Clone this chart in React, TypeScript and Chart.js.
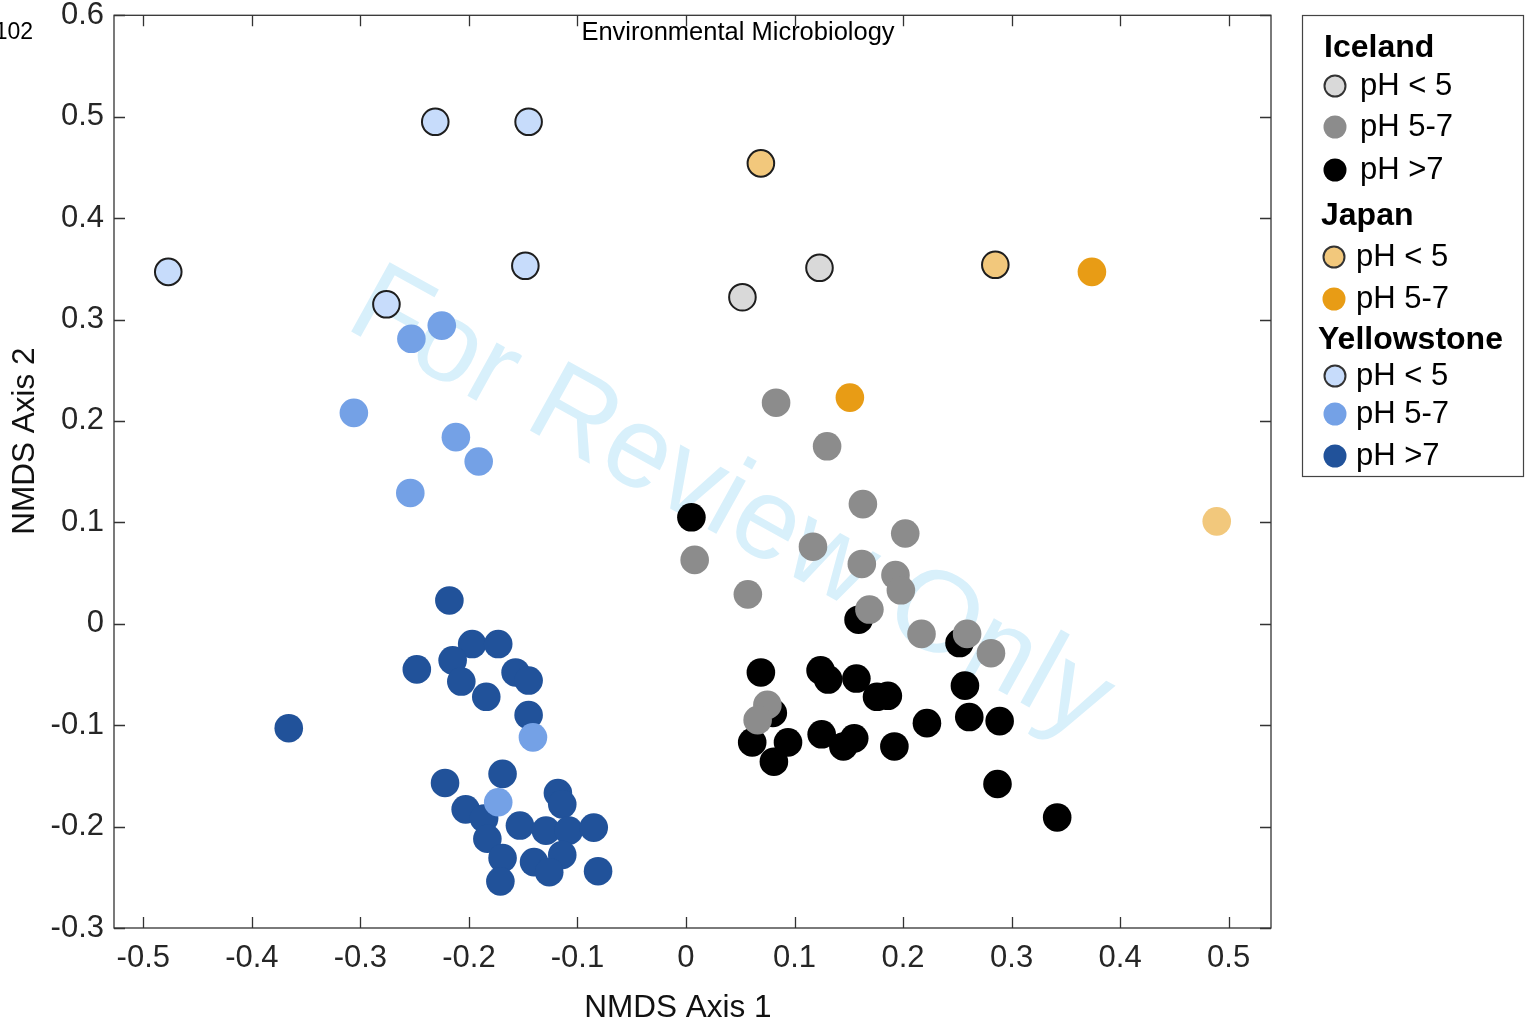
import React, { useEffect, useRef } from "react";
import { Chart, registerables } from "chart.js";

Chart.register(...registerables);

// ---------- data ----------
const X_TICKS = [-0.5, -0.4, -0.3, -0.2, -0.1, 0, 0.1, 0.2, 0.3, 0.4, 0.5];
const X_TICK_LABELS = ["-0.5", "-0.4", "-0.3", "-0.2", "-0.1", "0", "0.1", "0.2", "0.3", "0.4", "0.5"];
const Y_TICKS = [-0.3, -0.2, -0.1, 0, 0.1, 0.2, 0.3, 0.4, 0.5, 0.6];
const Y_TICK_LABELS = ["-0.3", "-0.2", "-0.1", "0", "0.1", "0.2", "0.3", "0.4", "0.5", "0.6"];

const X_TITLE = "NMDS Axis 1";
const Y_TITLE = "NMDS Axis 2";
const JOURNAL = "Environmental Microbiology";
const PAGE_NO = "102";
const WATERMARK = "For Review Only";

const GROUPS = ["Iceland", "Japan", "Yellowstone"];
const PH_LABELS = ["pH < 5", "pH 5-7", "pH >7"];

const ICELAND_LOW_X = [0.052, 0.123];
const ICELAND_LOW_Y = [0.322, 0.351];
const ICELAND_MID_X = [0.083, 0.130, 0.008, 0.057, 0.117, 0.163, 0.202, 0.162, 0.193, 0.198, 0.169, 0.217, 0.259, 0.281, 0.075, 0.066];
const ICELAND_MID_Y = [0.218, 0.175, 0.063, 0.029, 0.076, 0.118, 0.089, 0.059, 0.048, 0.033, 0.014, -0.010, -0.010, -0.029, -0.080, -0.095];
const ICELAND_HIGH_X = [0.005, 0.159, 0.252, 0.257, 0.069, 0.124, 0.131, 0.157, 0.176, 0.186, 0.261, 0.289, 0.222, 0.080, 0.061, 0.094, 0.081, 0.125, 0.145, 0.155, 0.192, 0.287, 0.342];
const ICELAND_HIGH_Y = [0.105, 0.004, -0.019, -0.061, -0.048, -0.046, -0.055, -0.054, -0.072, -0.071, -0.092, -0.096, -0.098, -0.088, -0.117, -0.117, -0.136, -0.109, -0.121, -0.113, -0.121, -0.158, -0.191];

const JAPAN_LOW_X = [0.069, 0.285];
const JAPAN_LOW_Y = [0.454, 0.354];
const JAPAN_LOW_EXTRA_X = [0.489];
const JAPAN_LOW_EXTRA_Y = [0.101];
const JAPAN_MID_X = [0.374, 0.151];
const JAPAN_MID_Y = [0.347, 0.223];

const YS_LOW_X = [-0.477, -0.231, -0.145, -0.148, -0.276];
const YS_LOW_Y = [0.347, 0.495, 0.495, 0.353, 0.315];
const YS_MID_X = [-0.225, -0.253, -0.306, -0.212, -0.191, -0.254, -0.141, -0.173];
const YS_MID_Y = [0.294, 0.281, 0.208, 0.184, 0.160, 0.129, -0.112, -0.176];
const YS_HIGH_X = [-0.366, -0.218, -0.197, -0.173, -0.215, -0.248, -0.207, -0.157, -0.145, -0.184, -0.145, -0.222, -0.169, -0.118, -0.114, -0.203, -0.186, -0.183, -0.153, -0.129, -0.108, -0.085, -0.169, -0.140, -0.114, -0.126, -0.171, -0.081];
const YS_HIGH_Y = [-0.103, 0.023, -0.020, -0.020, -0.036, -0.045, -0.057, -0.048, -0.056, -0.072, -0.090, -0.157, -0.148, -0.167, -0.178, -0.183, -0.192, -0.212, -0.199, -0.204, -0.204, -0.201, -0.231, -0.235, -0.228, -0.245, -0.254, -0.244];

// ---------- styles ----------
const FONT = '"Liberation Sans", Arial, Helvetica, sans-serif';
const C = {
  iceLow: "#d9d9d9",
  iceMid: "#8c8c8c",
  iceHigh: "#000000",
  jpLow: "#f2c87c",
  jpMid: "#e89c15",
  ysLow: "#c7dcfb",
  ysMid: "#74a1e6",
  ysHigh: "#21529a",
  outline: "#1e1e1e",
};

const pts = (xs: number[], ys: number[]) => xs.map((x, i) => ({ x, y: ys[i] }));

function ds(label: string, xs: number[], ys: number[], bg: string, outlined: boolean, order: number) {
  return {
    label,
    data: pts(xs, ys),
    backgroundColor: bg,
    borderColor: outlined ? C.outline : bg,
    borderWidth: outlined ? 2 : 0,
    pointRadius: outlined ? 13.3 : 14.3,
    pointHoverRadius: outlined ? 13.3 : 14.3,
    order,
  };
}

const overlayPlugin = {
  id: "overlay",
  beforeDatasetsDraw(chart: any) {
    const ctx = chart.ctx;
    ctx.save();
    ctx.translate(343, 327);
    ctx.rotate((29 * Math.PI) / 180);
    ctx.font = `115px ${FONT}`;
    ctx.fillStyle = "#d8f0fb";
    ctx.textBaseline = "alphabetic";
    ctx.textAlign = "left";
    ctx.fillText(WATERMARK, 0, 0);
    ctx.restore();
  },
  afterDraw(chart: any) {
    const { ctx, chartArea, scales } = chart;
    const { left, right, top, bottom } = chartArea;
    ctx.save();
    // frame
    ctx.strokeStyle = "#333333";
    ctx.lineWidth = 1.3;
    ctx.strokeRect(left, top, right - left, bottom - top);
    // inward ticks
    ctx.beginPath();
    const TL = 11;
    X_TICKS.forEach((v) => {
      const px = Math.round(scales.x.getPixelForValue(v)) + 0.5;
      ctx.moveTo(px, bottom);
      ctx.lineTo(px, bottom - TL);
      ctx.moveTo(px, top);
      ctx.lineTo(px, top + TL);
    });
    Y_TICKS.forEach((v) => {
      const py = Math.round(scales.y.getPixelForValue(v)) + 0.5;
      ctx.moveTo(left, py);
      ctx.lineTo(left + TL, py);
      ctx.moveTo(right, py);
      ctx.lineTo(right - TL, py);
    });
    ctx.stroke();

    // axis titles
    ctx.fillStyle = "#111111";
    ctx.font = `31.5px ${FONT}`;
    ctx.textAlign = "center";
    ctx.textBaseline = "middle";
    ctx.fillText(X_TITLE, 678, 1008);
    ctx.save();
    ctx.translate(25, 441);
    ctx.rotate(-Math.PI / 2);
    ctx.fillText(Y_TITLE, 0, 0);
    ctx.restore();

    // journal header + page number
    ctx.fillStyle = "#000000";
    ctx.font = `25.5px ${FONT}`;
    ctx.textAlign = "center";
    ctx.fillText(JOURNAL, 738, 33);
    ctx.textAlign = "right";
    ctx.font = `23px ${FONT}`;
    ctx.fillText(PAGE_NO, 33, 33);

    // legend
    ctx.fillStyle = "#ffffff";
    ctx.fillRect(1302, 15, 221, 461);
    ctx.strokeStyle = "#444444";
    ctx.lineWidth = 1.2;
    ctx.strokeRect(1302.5, 15.5, 221, 461);

    const dsets = chart.data.datasets;
    const byLabel = (g: string, p: string) => dsets.find((d: any) => d.group === g && d.ph === p);
    const layout = [
      { g: GROUPS[0], tx: 1324, ty: 48, items: [[PH_LABELS[0], 1335, 1360, 86], [PH_LABELS[1], 1335, 1360, 127], [PH_LABELS[2], 1335, 1360, 170]] },
      { g: GROUPS[1], tx: 1321, ty: 216, items: [[PH_LABELS[0], 1334, 1356, 257], [PH_LABELS[1], 1334, 1356, 299]] },
      { g: GROUPS[2], tx: 1318, ty: 340, items: [[PH_LABELS[0], 1335, 1356, 376], [PH_LABELS[1], 1335, 1356, 414], [PH_LABELS[2], 1335, 1356, 456]] },
    ];
    layout.forEach((grp) => {
      ctx.fillStyle = "#000000";
      ctx.font = `bold 32px ${FONT}`;
      ctx.textAlign = "left";
      ctx.textBaseline = "middle";
      ctx.fillText(grp.g, grp.tx, grp.ty);
      grp.items.forEach((it: any) => {
        const [lab, mx, lx, y] = it;
        const d = byLabel(grp.g, lab);
        if (!d) return;
        ctx.beginPath();
        const outlined = d.borderWidth > 0;
        ctx.arc(mx, y, outlined ? 10.5 : 11.5, 0, Math.PI * 2);
        ctx.fillStyle = d.backgroundColor;
        ctx.fill();
        if (outlined) {
          ctx.lineWidth = 2;
          ctx.strokeStyle = "#333333";
          ctx.stroke();
        }
        ctx.fillStyle = "#000000";
        ctx.font = `31px ${FONT}`;
        ctx.fillText(lab, lx, y);
      });
    });
    ctx.restore();
  },
};

export default function App() {
  const ref = useRef<HTMLCanvasElement | null>(null);
  useEffect(() => {
    document.body.style.margin = "0";
    if (!ref.current) return;
    const mark = (d: any, g: string, p: string) => Object.assign(d, { group: g, ph: p });
    const chart = new Chart(ref.current, {
      type: "scatter",
      data: {
        datasets: [
          mark(ds(`${GROUPS[0]} ${PH_LABELS[0]}`, ICELAND_LOW_X, ICELAND_LOW_Y, C.iceLow, true, 1), GROUPS[0], PH_LABELS[0]),
          mark(ds(`${GROUPS[0]} ${PH_LABELS[1]}`, ICELAND_MID_X, ICELAND_MID_Y, C.iceMid, false, 2), GROUPS[0], PH_LABELS[1]),
          mark(ds(`${GROUPS[0]} ${PH_LABELS[2]}`, ICELAND_HIGH_X, ICELAND_HIGH_Y, C.iceHigh, false, 3), GROUPS[0], PH_LABELS[2]),
          mark(ds(`${GROUPS[1]} ${PH_LABELS[0]}`, JAPAN_LOW_X, JAPAN_LOW_Y, C.jpLow, true, 1), GROUPS[1], PH_LABELS[0]),
          mark(ds(`${GROUPS[1]} ${PH_LABELS[0]} (2)`, JAPAN_LOW_EXTRA_X, JAPAN_LOW_EXTRA_Y, C.jpLow, false, 1), "", ""),
          mark(ds(`${GROUPS[1]} ${PH_LABELS[1]}`, JAPAN_MID_X, JAPAN_MID_Y, C.jpMid, false, 2), GROUPS[1], PH_LABELS[1]),
          mark(ds(`${GROUPS[2]} ${PH_LABELS[0]}`, YS_LOW_X, YS_LOW_Y, C.ysLow, true, 1), GROUPS[2], PH_LABELS[0]),
          mark(ds(`${GROUPS[2]} ${PH_LABELS[1]}`, YS_MID_X, YS_MID_Y, C.ysMid, false, 2), GROUPS[2], PH_LABELS[1]),
          mark(ds(`${GROUPS[2]} ${PH_LABELS[2]}`, YS_HIGH_X, YS_HIGH_Y, C.ysHigh, false, 3), GROUPS[2], PH_LABELS[2]),
        ],
      },
      options: {
        animation: false,
        responsive: false,
        events: [],
        layout: { padding: { left: 0, top: 15, right: 258, bottom: 0 } },
        plugins: { legend: { display: false }, tooltip: { enabled: false } },
        scales: {
          x: {
            type: "linear",
            min: -0.527,
            max: 0.539,
            grid: { display: false, drawTicks: false },
            border: { display: false },
            afterBuildTicks: (s: any) => {
              s.ticks = X_TICKS.map((v) => ({ value: v }));
            },
            afterFit: (s: any) => {
              s.height = 98;
              s.paddingLeft = 0;
              s.paddingRight = 0;
            },
            ticks: {
              autoSkip: false,
              maxRotation: 0,
              padding: 12,
              color: "#262626",
              font: { size: 31, family: FONT },
              callback: (_v: any, i: number) => X_TICK_LABELS[i],
            },
          },
          y: {
            type: "linear",
            min: -0.3,
            max: 0.6,
            grid: { display: false, drawTicks: false },
            border: { display: false },
            afterBuildTicks: (s: any) => {
              s.ticks = Y_TICKS.map((v) => ({ value: v }));
            },
            afterFit: (s: any) => {
              s.width = 114;
              s.paddingTop = 0;
              s.paddingBottom = 0;
            },
            ticks: {
              autoSkip: false,
              padding: 10,
              color: "#262626",
              font: { size: 31, family: FONT },
              callback: (_v: any, i: number) => Y_TICK_LABELS[i],
            },
          },
        },
      },
      plugins: [overlayPlugin],
    } as any);
    return () => chart.destroy();
  }, []);
  return <canvas ref={ref} width={1529} height={1026} style={{ display: "block" }} />;
}
